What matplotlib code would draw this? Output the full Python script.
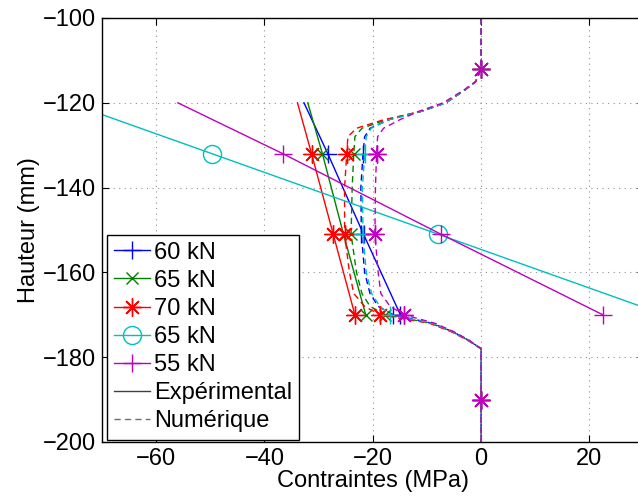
import matplotlib
matplotlib.use("Agg")
import matplotlib.pyplot as plt
from matplotlib.lines import Line2D

plt.rcParams['font.family'] = ['Liberation Sans', 'DejaVu Sans']

# ---- data ----
labels = ["60 kN", "65 kN", "70 kN", "65 kN", "55 kN"]
colors = ["#0000ff", "#008000", "#ff0000", "#00bfbf", "#bf00bf"]
AST = (8, 2, 0)  # MATLAB-like asterisk
markers_exp = ["+", "x", AST, "o", "+"]
markers_num = ["+", "x", AST, "+", AST]
msizes = [13, 9, 13, 13, 13]

# experimental (solid) : heights and stresses
heights_exp = [-120, -132, -151, -170]
exp_60 = [-32.7, -28.3, -21.7, -14.9]
exp_65 = [-32.0, -29.3, -25.4, -21.3]
exp_70 = [-33.9, -31.3, -27.3, -23.3]
exp_65b = [-76.1, -49.7, -7.9, 33.9]
exp_55 = [-56.0, -36.6, -7.4, 22.5]
exp_marked = [1, 2, 3]

# numerical (dashed)
heights_num = [-100, -112, -115, -117, -120, -122, -124, -126, -128, -132, -140,
               -151, -160, -165, -168, -170, -172, -174, -176, -178, -190, -200]
num_60 = [0, 0, -1, -3, -6.5, -11, -17, -20.5, -21.5, -21.8, -22.2,
          -22.1, -21.5, -20.5, -19, -16.2, -9, -5.2, -2.3, 0, 0, 0]
num_65 = [0, 0, -1, -3, -6.5, -11, -17.5, -22, -23.3, -23.5, -23.8,
          -24.0, -23.0, -22, -20.5, -17.7, -9.3, -5.3, -2.4, 0, 0, 0]
num_70 = [0, 0, -1, -3, -6.5, -11, -18, -23, -24.6, -24.8, -25.2,
          -25.2, -24.3, -23.5, -21.5, -18.7, -9.5, -5.5, -2.5, 0, 0, 0]
num_65b = [0, 0, -1, -3, -6.5, -11, -17, -20.3, -21.2, -21.5, -21.9,
           -21.8, -21.2, -20.2, -18.7, -16.8, -9, -5.2, -2.3, 0, 0, 0]
num_55 = [0, 0, -1, -3.2, -7, -11.5, -15, -18, -19.1, -19.3, -19.5,
          -19.6, -19.0, -18.5, -16.8, -14.2, -8.5, -5, -2.2, 0, 0, 0]
num_marked = [1, 9, 11, 15, 20]

exp_all = [exp_60, exp_65, exp_70, exp_65b, exp_55]
num_all = [num_60, num_65, num_70, num_65b, num_55]

xticks = [-60, -40, -20, 0, 20]
yticks = [-200, -180, -160, -140, -120, -100]

# ---- figure ----
W, H = 638, 504
fig = plt.figure(figsize=(W / 100, H / 100), dpi=100)
ax_l, ax_r, ax_t, ax_b = 102, 643.5, 18, 442
ax = fig.add_axes([ax_l / W, 1 - ax_b / H, (ax_r - ax_l) / W, (ax_b - ax_t) / H])

for c, me, mn, xe, xn, ms in zip(colors, markers_exp, markers_num, exp_all, num_all, msizes):
    ax.plot(xe, heights_exp, '-', color=c, lw=1.0, marker=me, markevery=exp_marked,
            ms=ms, mfc='none', mew=1.0)
    msn = 9 if mn == "x" else 13
    ax.plot(xn, heights_num, '--', color=c, lw=1.0, dashes=(4.5, 3), marker=mn,
            markevery=num_marked, ms=msn, mfc='none', mew=1.0)

ax.set_xlim(-70, 30)
ax.set_ylim(-200, -100)
ax.set_xticks(xticks)
ax.set_yticks(yticks)
ax.tick_params(direction='in', top=True, right=True, length=5, labelsize=17, pad=4)
ax.set_xticklabels([f"\u2212{abs(v)}" if v < 0 else str(v) for v in xticks])
ax.set_yticklabels([f"\u2212{abs(v)}" if v < 0 else str(v) for v in yticks])
ax.grid(True, color='#909090', linestyle=(0, (1, 4)), linewidth=0.8)
for s in ax.spines.values():
    s.set_linewidth(1.0)

ax.set_xlabel("Contraintes (MPa)", fontsize=17, labelpad=0)
ax.set_ylabel("Hauteur (mm)", fontsize=17, labelpad=2)

handles = []
for lab, c, me, ms in zip(labels, colors, markers_exp, msizes):
    handles.append(Line2D([], [], color=c, lw=1.0, marker=me, ms=ms, mfc='none', mew=1.0))
handles.append(Line2D([], [], color='#404040', lw=1.0))
handles.append(Line2D([], [], color='#707070', lw=1.0, ls='--', dashes=(4.5, 3)))
leg_labels = labels + ["Expérimental", "Numérique"]
leg = ax.legend(handles, leg_labels, loc='lower left',
                bbox_to_anchor=((107 - ax_l) / (ax_r - ax_l), (ax_b - 439.5) / (ax_b - ax_t)),
                borderaxespad=0, fontsize=17, handlelength=1.5, handletextpad=0.2,
                labelspacing=0.26, borderpad=0.3, fancybox=False, framealpha=1,
                edgecolor='black')
leg.get_frame().set_linewidth(1.0)

fig.savefig("out.png", dpi=100)
